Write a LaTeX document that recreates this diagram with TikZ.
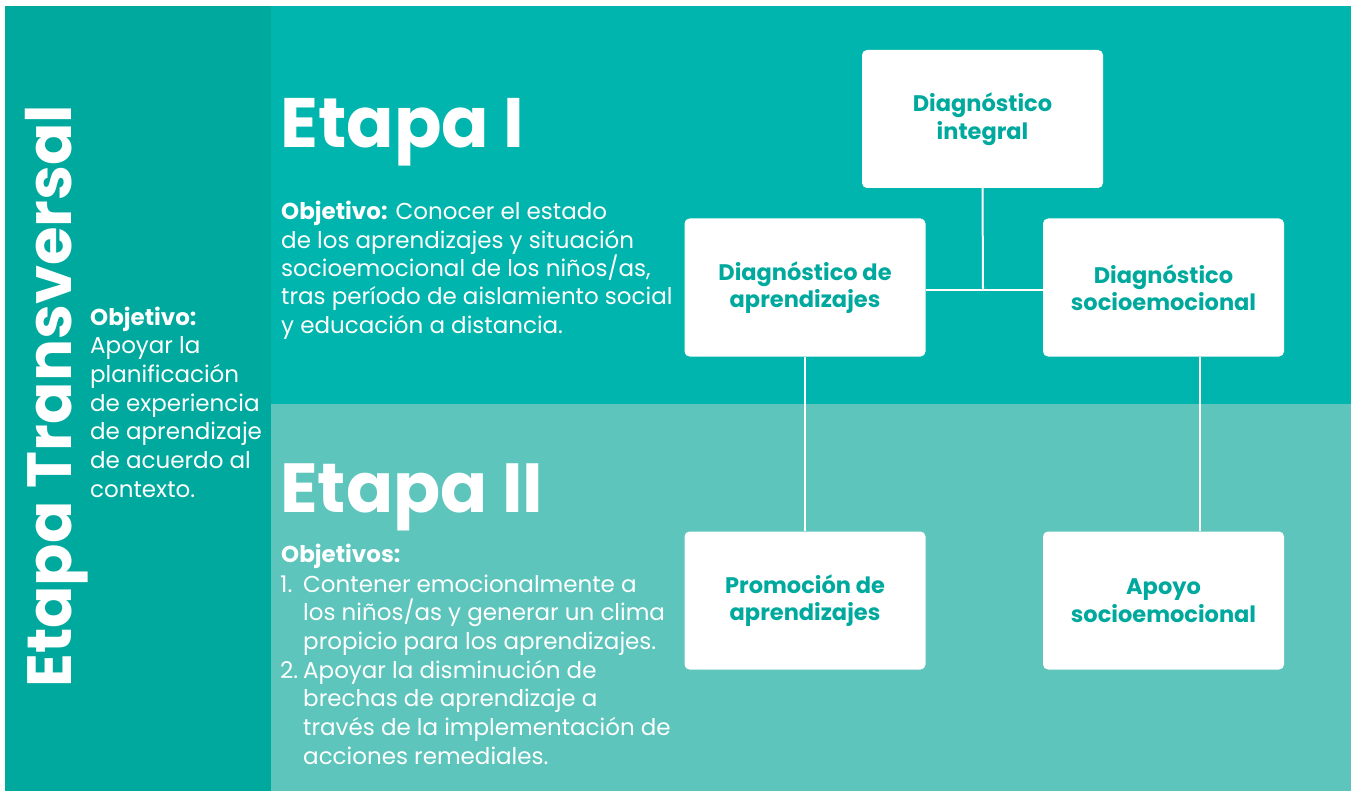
\documentclass[tikz,border=0pt]{standalone}
\usepackage{fontspec}
\setmainfont{Poppins}
\usetikzlibrary{calc}
\definecolor{colL}{HTML}{00A99D}
\definecolor{colT}{HTML}{00B5AD}
\definecolor{colB}{HTML}{5DC5BC}
\definecolor{boxtxt}{HTML}{00A99D}
\tikzset{
  card/.style={rectangle, rounded corners=5pt, fill=white, minimum width=241pt, minimum height=138pt, inner sep=0pt, text=boxtxt, font=\fontsize{22.5}{27.5}\selectfont\bfseries, align=center},
  link/.style={draw=white, line width=2pt},
  body/.style={text=white, inner sep=0pt, anchor=base west, align=left, font=\fontsize{23}{28.7}\selectfont},
  big/.style={text=white, inner sep=0pt, anchor=base west, font=\fontsize{70}{70}\selectfont\bfseries}
}
\begin{document}
\begin{tikzpicture}[x=1pt,y=-1pt]
\useasboundingbox (0,0) rectangle (1351,791);
\fill[white] (0,0) rectangle (1351,791);
\fill[colT] (271,6) rectangle (1351,404);
\fill[colB] (271,404) rectangle (1351,791);
\fill[colL] (5,6) rectangle (271,791);

% multi-line text nodes are placed at the baseline of their last line
\node[big, rotate=90] (trans) at (71,688) {\fontsize{62.5}{62.5}\selectfont Etapa Transversal};
\node[body] (objL) at (90,497.2) {\textbf{Objetivo:}\\Apoyar la\\planificación\\de experiencia\\de aprendizaje\\de acuerdo al\\contexto.};

\node[big] (et1) at (280,148) {Etapa I};
\node[body, font=\fontsize{23}{28.3}\selectfont] (obj1) at (281,333.2) {\textbf{Objetivo:} Conocer el estado\\de los aprendizajes y situación\\socioemocional de los niños/as,\\tras período de aislamiento social\\y educación a distancia.};

\node[big, font=\fontsize{69.5}{69.5}\selectfont\bfseries] (et2) at (280,512) {Etapa II};
\node[body] (obj2h) at (281,562) {\textbf{Objetivos:}};
\node[body] (n1) at (280,592) {1.};
\node[body] (obj2a) at (303,649.4) {Contener emocionalmente a\\los niños/as y generar un clima\\propicio para los aprendizajes.};
\node[body] (n2) at (280,678) {2.};
\node[body] (obj2b) at (303,764.1) {Apoyar la disminución de\\brechas de aprendizaje a\\través de la implementación de\\acciones remediales.};

\node[card] (integral) at (982.5,119) {Diagnóstico\\integral};
\node[card] (dapr) at (805,287.5) {Diagnóstico de\\aprendizajes};
\node[card] (dsoc) at (1163.5,287.5) {Diagnóstico\\socioemocional};
\node[card] (prom) at (805,600.5) {Promoción de\\aprendizajes};
\node[card] (apoyo) at (1163.5,600.5) {Apoyo\\socioemocional};

\coordinate (j) at (983,290);
\draw[link] (integral.south) -- (j);
\draw[link] (dapr.east |- j) -- (dsoc.west |- j);
\draw[link] (dapr.south) -- (prom.north);
\draw[link] ([xshift=36pt]dsoc.south) -- ([xshift=36pt]apoyo.north);
\end{tikzpicture}
\end{document}
